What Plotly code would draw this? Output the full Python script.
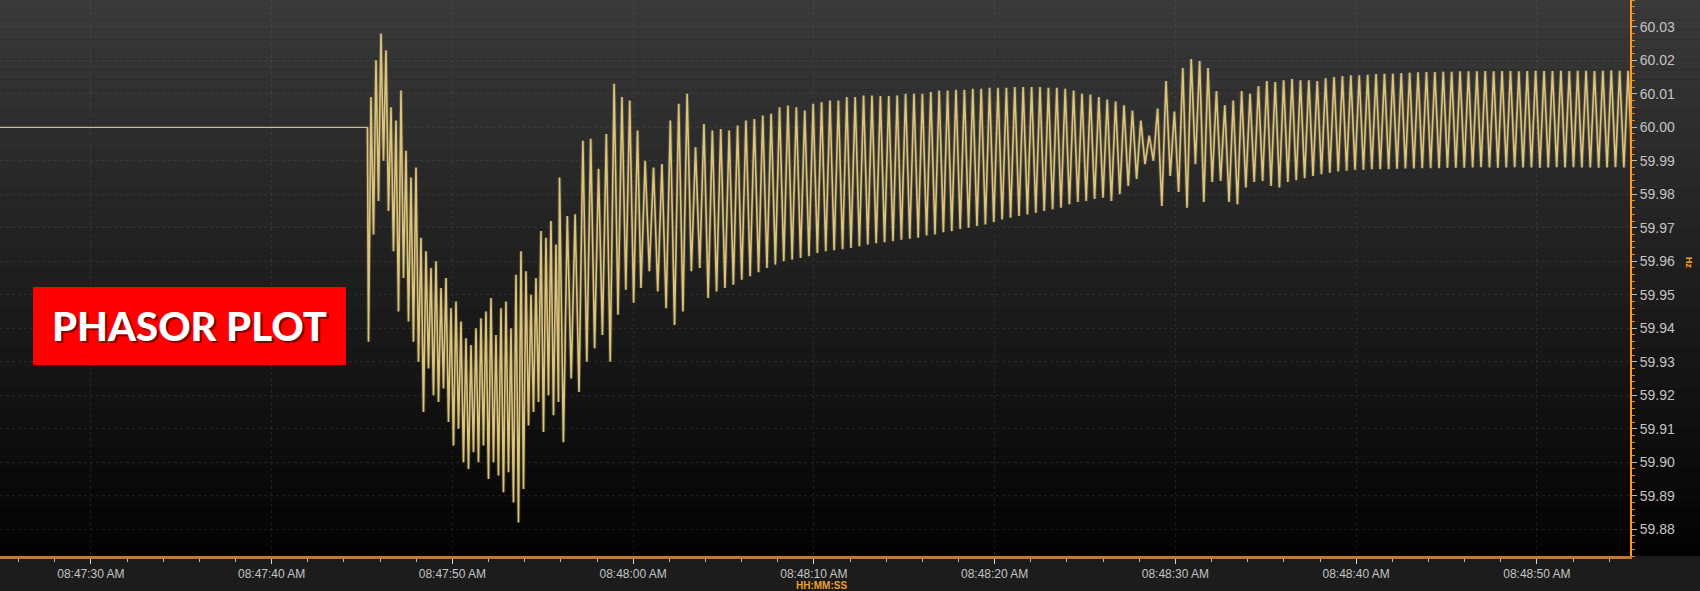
import pandas as pd
import plotly.graph_objects as go

# ---------------------------------------------------------------- data
BASE = pd.Timestamp("2014-01-01 08:47:00")

# window shown on the time axis (seconds after 08:47:00)
view_start_s = 24.97
view_end_s = 115.15

# steady system frequency before the event
steady_start_s = 24.97
steady_end_s = 45.30
steady_hz = 60.000

# disturbance swing: alternating trough / crest samples
swing_start_s = 45.357
swing_step_s = 0.1383
swing_hz = [
    59.936, 60.009, 59.968, 60.020, 59.978, 60.028, 59.990, 60.023, 59.975, 60.006,
    59.963, 60.002, 59.945, 60.011, 59.955, 59.993, 59.942, 59.985, 59.936, 59.988,
    59.930, 59.967, 59.915, 59.963, 59.928, 59.958, 59.920, 59.960, 59.918, 59.952,
    59.922, 59.955, 59.912, 59.946, 59.905, 59.948, 59.910, 59.942, 59.900, 59.937,
    59.898, 59.935, 59.903, 59.940, 59.900, 59.943, 59.905, 59.945, 59.895, 59.949,
    59.900, 59.938, 59.896, 59.946, 59.891, 59.948, 59.897, 59.940, 59.888, 59.956,
    59.882, 59.963, 59.892, 59.957, 59.911, 59.950, 59.915, 59.955, 59.918, 59.969,
    59.909, 59.967, 59.920, 59.972, 59.914, 59.965, 59.918,
]

# recovery: crest / trough samples as the swing widens again
recovery_start_s = 55.925
recovery_step_s = 0.2158
recovery_hz = [
    59.985, 59.906, 59.9735, 59.925, 59.974, 59.921, 59.996, 59.930, 59.9966, 59.934,
    59.9876, 59.938, 59.998, 59.930, 60.013, 59.944, 60.009, 59.9515, 60.008, 59.9476,
    59.999,
]

# ring-down oscillation: one trough and one crest per cycle
ring_start_s = 60.43
ring_step_s = 0.2324
ring_trough_hz = [
    59.952, 59.957, 59.951, 59.946, 59.941, 59.945, 59.957, 59.958, 59.949, 59.951,
    59.952, 59.953, 59.9545, 59.9555, 59.9567, 59.958, 59.959, 59.960, 59.9605, 59.961,
    59.9615, 59.9625, 59.963, 59.9633, 59.9636, 59.964, 59.9645, 59.965, 59.9654, 59.9657,
    59.966, 59.9664, 59.9667, 59.967, 59.9677, 59.968, 59.9687, 59.969, 59.9696, 59.970,
    59.9705, 59.971, 59.9717, 59.9725, 59.973, 59.9735, 59.974, 59.9745, 59.975, 59.9755,
    59.976, 59.977, 59.9777, 59.978, 59.9786, 59.979, 59.978, 59.980, 59.9825, 59.9846,
    59.989, 59.990, 59.9765, 59.9855, 59.9807, 59.976, 59.989, 59.9777, 59.9837, 59.984,
    59.9777, 59.977, 59.982, 59.9837, 59.984, 59.9825, 59.982, 59.9837, 59.9842, 59.9848,
    59.9855, 59.986, 59.9864, 59.9868, 59.987, 59.9873, 59.9873, 59.9875, 59.9875, 59.9875,
    59.9876, 59.9877, 59.9877, 59.9878, 59.9878, 59.9878, 59.9879, 59.9879, 59.9879, 59.988,
    59.9881, 59.988, 59.9879, 59.988, 59.9881, 59.988, 59.988, 59.9879, 59.988, 59.9881,
    59.988, 59.9881, 59.988, 59.988, 59.9879, 59.988, 59.9881, 59.988, 59.988,
]
ring_crest_hz = [
    59.990, 59.988, 59.989, 60.002, 60.007, 60.010, 59.994, 60.001, 59.999, 59.9995,
    59.999, 60.0005, 60.002, 60.0025, 60.0035, 60.004, 60.006, 60.0065, 60.006, 60.005,
    60.007, 60.0075, 60.008, 60.008, 60.009, 60.009, 60.0095, 60.0095, 60.0093, 60.0093,
    60.0095, 60.010, 60.010, 60.010, 60.0105, 60.011, 60.011, 60.0112, 60.0112, 60.0115,
    60.0115, 60.0118, 60.0118, 60.0118, 60.012, 60.012, 60.012, 60.012, 60.0118, 60.0118,
    60.0115, 60.011, 60.010, 60.0098, 60.009, 60.0083, 60.0077, 60.0066, 60.005, 60.002,
    59.9975, 60.0056, 60.0138, 60.0047, 60.0177, 60.0204, 60.0198, 60.0177, 60.0108, 60.0066,
    60.008, 60.0108, 60.010, 60.0123, 60.0138, 60.0135, 60.014, 60.0144, 60.014, 60.014,
    60.0138, 60.0146, 60.015, 60.0153, 60.0155, 60.0155, 60.0157, 60.0159, 60.016, 60.016,
    60.0162, 60.0163, 60.0164, 60.0165, 60.0165, 60.0166, 60.0166, 60.0167, 60.0167, 60.0167,
    60.0168, 60.0167, 60.0168, 60.0168, 60.0167, 60.0168, 60.0169, 60.0168, 60.0168, 60.0169,
    60.0168, 60.0169, 60.0169, 60.0168, 60.0169, 60.017, 60.0169, 60.0169, 60.017,
]

# axis ticks
y_tick_start = 59.88
y_tick_step = 0.01
x_tick_first_s = 30
x_tick_step_ms = 10000

# ---------------------------------------------------------------- series assembly
def at(sec):
    return BASE + pd.to_timedelta(sec, unit="s")


steady_times = [at(steady_start_s), at(steady_end_s)]
steady_values = [steady_hz, steady_hz]

times = [at(steady_end_s)]
values = [steady_hz]


def append_regular(start_s, step_s, samples):
    for i, v in enumerate(samples):
        times.append(at(start_s + i * step_s))
        values.append(v)


append_regular(swing_start_s, swing_step_s, swing_hz)
append_regular(recovery_start_s, recovery_step_s, recovery_hz)

ring_values = []
for lo, hi in zip(ring_trough_hz, ring_crest_hz):
    ring_values += [lo, hi]
append_regular(ring_start_s, ring_step_s, ring_values)

# ---------------------------------------------------------------- figure
W, H = 1700, 591
ML, MR, MT, MB = 0, 70, 0, 35
PW, PH = W - ML - MR, H - MT - MB


def px(x):
    return (x - ML) / PW


def py(y):
    return 1 - (y - MT) / PH


fig = go.Figure()

# flat pre-event stretch: thin, slightly greyer stroke
fig.add_trace(go.Scatter(
    x=steady_times, y=steady_values, mode="lines",
    line=dict(color="#c9bc98", width=1.2),
    name="Frequency",
))
# oscillating part: soft glow under a gold stroke
fig.add_trace(go.Scatter(
    x=times, y=values, mode="lines",
    line=dict(color="rgba(235,205,120,0.20)", width=3.6),
    hoverinfo="skip",
))
fig.add_trace(go.Scatter(
    x=times, y=values, mode="lines",
    line=dict(color="#dcc47c", width=1.6),
    name="Frequency",
))

# dark vertical gradient behind the chart
shapes = []
bands = 56
for k in range(bands):
    top = 1 - k / bands
    bot = 1 - (k + 1) / bands
    g = int(round(58 - 56 * (k + 0.5) / bands))
    shapes.append(dict(
        type="rect", xref="paper", yref="paper",
        x0=0, x1=1 + MR / PW, y0=bot, y1=top,
        fillcolor=f"rgb({g},{g},{g})", line=dict(width=0), layer="below",
    ))

# red caption box
shapes.append(dict(
    type="rect", xref="paper", yref="paper",
    x0=px(33), x1=px(346), y0=py(365), y1=py(287),
    fillcolor="#fe0000", line=dict(width=0), layer="above",
))

cap_x = px(189.5)
cap_y = py(326)
annotations = [
    dict(text="PHASOR PLOT", x=cap_x, y=cap_y, xref="paper", yref="paper",
         xanchor="center", yanchor="middle", showarrow=False, xshift=2, yshift=-2,
         font=dict(family="Lato", size=40, weight=900, color="rgba(90,0,0,0.75)")),
    dict(text="PHASOR PLOT", x=cap_x, y=cap_y, xref="paper", yref="paper",
         xanchor="center", yanchor="middle", showarrow=False,
         font=dict(family="Lato", size=40, weight=900, color="#ffffff")),
    dict(text="Hz", x=px(1689), y=py(263), xref="paper", yref="paper",
         xanchor="center", yanchor="middle", showarrow=False, textangle=90,
         font=dict(family="Liberation Sans", size=9, weight=700, color="#f0a020")),
    dict(text="<b>HH:MM:SS</b>", x=px(821), y=py(585), xref="paper", yref="paper",
         xanchor="center", yanchor="middle", showarrow=False,
         font=dict(family="Liberation Sans", size=10, color="#e8a030")),
]

grid = "rgba(120,120,120,0.2)"

fig.update_layout(
    width=W, height=H,
    margin=dict(l=ML, r=MR, t=MT, b=MB),
    paper_bgcolor="#1c1c1c",
    plot_bgcolor="rgba(0,0,0,0)",
    showlegend=False,
    shapes=shapes,
    annotations=annotations,
    xaxis=dict(
        type="date",
        range=[at(view_start_s), at(view_end_s)],
        tick0=at(x_tick_first_s), dtick=x_tick_step_ms,
        tickformat="%I:%M:%S %p",
        ticks="outside", ticklen=5, tickcolor="#d8d8d8", tickwidth=1,
        tickfont=dict(family="Liberation Sans", size=12, color="#c4c4c4"),
        showline=True, linecolor="#c47830", linewidth=3,
        showgrid=True, gridcolor=grid, griddash="dot", gridwidth=1,
        zeroline=False,
        minor=dict(dtick=2000, ticks="outside", ticklen=3,
                   tickcolor="#e8b080", showgrid=False),
    ),
    yaxis=dict(
        side="right",
        range=[59.872, 60.038],
        tick0=y_tick_start, dtick=y_tick_step, tickformat=".2f",
        ticks="outside", ticklen=5, tickcolor="#bbbbbb",
        tickfont=dict(family="Liberation Sans", size=14, color="#c4c4c4"),
        showline=True, linecolor="#ff9a1c", linewidth=2,
        showgrid=True, gridcolor=grid, griddash="dot", gridwidth=1,
        zeroline=False,
        minor=dict(dtick=0.002, ticks="outside", ticklen=3,
                   tickcolor="#e08a20", showgrid=False),
    ),
)

fig.write_html("out.html")
